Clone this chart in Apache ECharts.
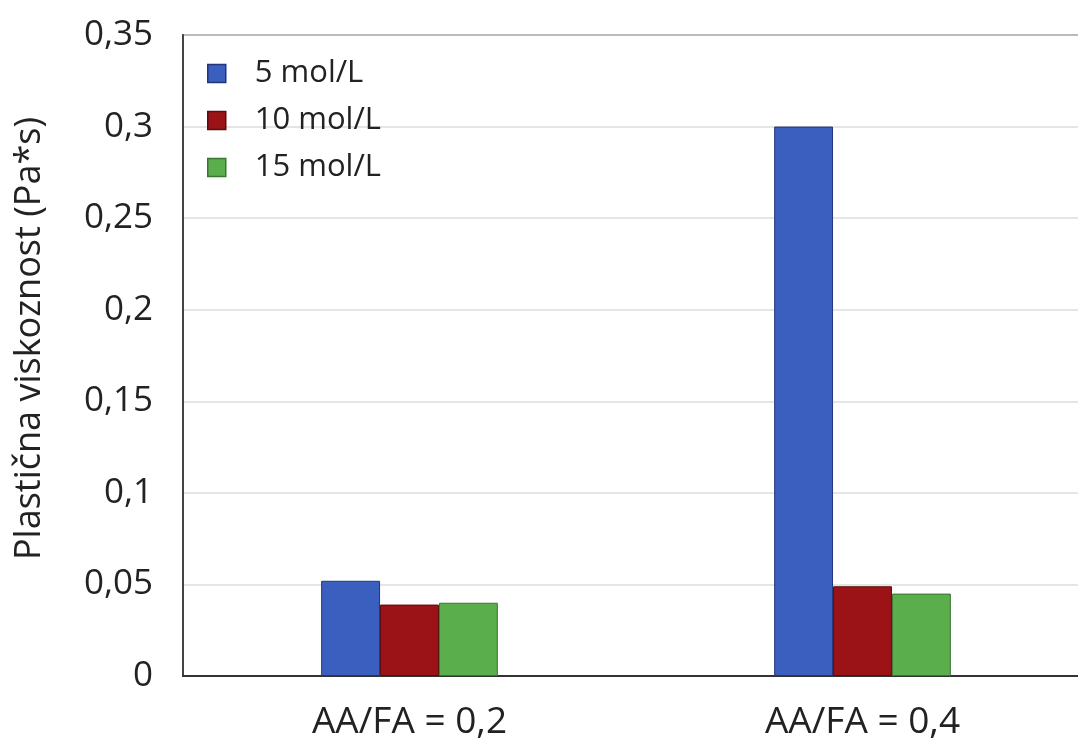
<!DOCTYPE html>
<html><head><meta charset="utf-8">
<script src="https://cdn.jsdelivr.net/npm/echarts@6/dist/echarts.min.js"></script>
<style>html,body{margin:0;padding:0;background:#fff}#c{width:1078px;height:740px}</style>
</head><body><div id="c"></div>
<script>
const categories = ['AA/FA = 0,2', 'AA/FA = 0,4'];
const seriesNames = ['5 mol/L', '10 mol/L', '15 mol/L'];
const s5 = [0.052, 0.300];
const s10 = [0.039, 0.049];
const s15 = [0.040, 0.045];
const yTicks = [0, 0.05, 0.1, 0.15, 0.2, 0.25, 0.3, 0.35];
const yTitle = 'Plastična viskoznost (Pa*s)';

const colors = ['#3b5fbe', '#9b1316', '#5aae4c'];
const borders = ['#23347a', '#5a0c10', '#3c7434'];
const values = [s5, s10, s15];
const font = '"Open Sans", "Noto Sans", sans-serif';

const chart = echarts.init(document.getElementById('c'));
chart.setOption({
  animation: false,
  textStyle: { fontFamily: font },
  grid: { left: 183, top: 35, width: 906, height: 641, outerBoundsMode: 'none', containLabel: false,
    show: true, borderColor: '#555', borderWidth: 2, backgroundColor: 'transparent' },
  legend: {
    left: 202, top: 53, orient: 'vertical', itemGap: 16,
    itemWidth: 18, itemHeight: 18,
    textStyle: { fontSize: 31, color: '#222', fontFamily: font, padding: [0, 0, 0, 24] },
    data: seriesNames.map((n, i) => ({ name: n, icon: 'rect', itemStyle: { color: colors[i], borderColor: borders[i], borderWidth: 1.5 } }))
  },
  xAxis: {
    type: 'category', data: categories,
    axisLine: { lineStyle: { color: '#333', width: 2 } },
    axisTick: { show: false },
    axisLabel: { fontSize: 37, color: '#222', margin: 28, fontFamily: font }
  },
  yAxis: {
    type: 'value', min: 0, max: 0.35, interval: 0.05,
    name: yTitle, nameLocation: 'middle', nameGap: 135, nameRotate: 90,
    nameTextStyle: { fontSize: 36, color: '#222', fontFamily: font, padding: [0, 0, 0, 34] },
    axisLine: { show: true, lineStyle: { color: '#444', width: 2 } },
    axisTick: { show: false },
    splitLine: { lineStyle: { color: '#dcdcdc', width: 1.5 } },
    axisLabel: { fontSize: 35, color: '#222', margin: 30, fontFamily: font,
      formatter: v => { const t = yTicks.find(x => Math.abs(x - v) < 1e-9); return String(+(t ?? v).toFixed(2)).replace('.', ','); } }
  },
  series: seriesNames.map((n, i) => ({
    name: n, type: 'bar', data: values[i],
    barGap: '0%', barCategoryGap: '61%',
    itemStyle: { color: colors[i], borderColor: borders[i], borderWidth: 1 }
  }))
});
</script></body></html>
